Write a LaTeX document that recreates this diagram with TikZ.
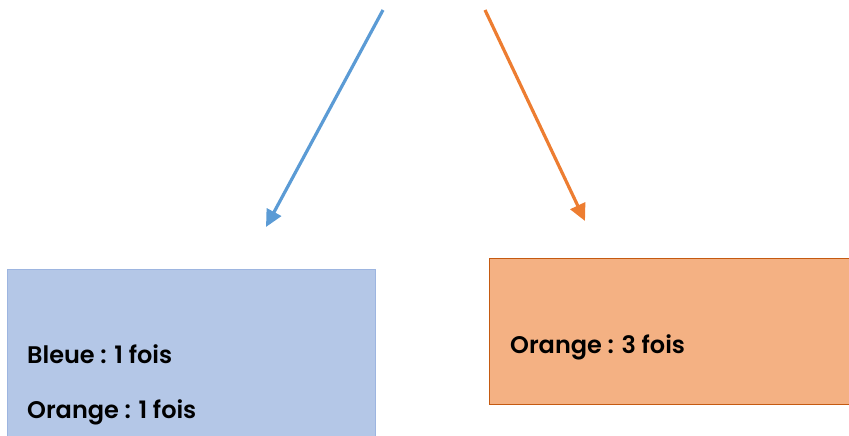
\documentclass[tikz,border=0pt]{standalone}
\usepackage{fontspec}
\setmainfont{Poppins}[BoldFont={Poppins SemiBold}]
\usetikzlibrary{arrows.meta}
\definecolor{bluefill}{HTML}{B4C7E7}
\definecolor{blueedge}{HTML}{9DB5E0}
\definecolor{orangefill}{HTML}{F4B183}
\definecolor{orangeedge}{HTML}{C55A11}
\definecolor{bluearrow}{HTML}{5B9BD5}
\definecolor{orangearrow}{HTML}{ED7D31}
\tikzset{
  box/.style={draw, line width=1pt, inner sep=0pt, outer sep=0pt},
  lbl/.style={anchor=base west, inner sep=0pt, font=\fontsize{24}{28}\selectfont\bfseries},
  conn/.style={line width=3.2pt, -{Triangle[length=17pt,width=16pt]}}
}
\begin{document}
\begin{tikzpicture}[x=1pt,y=-1pt]
\useasboundingbox (0,0) rectangle (849,436);
\clip (0,0) rectangle (849,436);
\path[box, draw=blueedge, fill=bluefill] (7,269) rectangle (375,450);
\path[box, draw=orangeedge, fill=orangefill] (489,258) rectangle (860,404);
\coordinate (bs) at (383,10);
\coordinate (be) at (266,227);
\coordinate (os) at (485,10);
\coordinate (oe) at (585,221);
\draw[conn, bluearrow] (bs) -- (be);
\draw[conn, orangearrow] (os) -- (oe);
\node[lbl] (b1) at (27,363) {Bleue : 1 fois};
\node[lbl] (b2) at (27,418) {Orange : 1 fois};
\node[lbl] (o1) at (510,353) {Orange : 3 fois};
\end{tikzpicture}
\end{document}
